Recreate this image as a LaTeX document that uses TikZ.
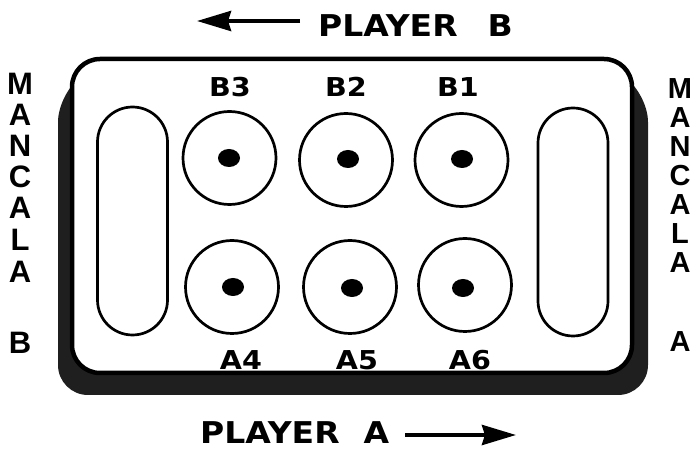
\documentclass[tikz,border=0pt]{standalone}
\usepackage{fontspec}
\usetikzlibrary{arrows.meta,shapes.geometric}
\newfontfamily\labelfont{DejaVu Sans}[FakeStretch=1.1]
\newfontfamily\sidefont{Liberation Sans}

\tikzset{
  board/.style={draw=black, line width=4.5pt, fill=white, rounded corners=28pt},
  boardshadow/.style={fill=black!88, rounded corners=30pt},
  pit/.style={circle, draw=black, line width=2.7pt, minimum size=93pt, inner sep=0pt},
  seed/.style={ellipse, fill=black, minimum width=22pt, minimum height=18pt, inner sep=0pt},
  store/.style={rectangle, draw=black, line width=2.7pt, rounded corners=35pt,
                minimum width=70pt, minimum height=228pt, inner sep=0pt},
  pitlabel/.style={font=\labelfont\bfseries\fontsize{26pt}{26pt}\selectfont,
                   inner sep=0pt, anchor=base},
  playerlabel/.style={font=\labelfont\bfseries\fontsize{30pt}{30pt}\selectfont,
                      inner sep=0pt, anchor=base west},
  sideletterB/.style={font=\sidefont\bfseries\fontsize{31pt}{31pt}\selectfont,
                      inner sep=0pt, anchor=base},
  sideletterA/.style={font=\sidefont\bfseries\fontsize{29pt}{29pt}\selectfont,
                      inner sep=0pt, anchor=base},
  dirarrow/.style={line width=4pt, -{Stealth[length=34pt,width=20pt,inset=3pt]}}
}

\begin{document}
\begin{tikzpicture}[x=1pt,y=-1pt]
  \useasboundingbox (0,0) rectangle (694,454);

  % dark lower edge of the board, tucked under its top corners
  \fill[boardshadow] (96,66) -- (58,92) -- (58,395) -- (648,395) -- (648,92) -- (608,66) -- cycle;
  % board body
  \draw[board] (72,59) rectangle (632,373);

  % the two stores
  \node[store] (storeB) at (132.5,221) {};
  \node[store] (storeA) at (573,222) {};

  % player B pits (top row)
  \node[pit] (pB3) at (229.5,158) {};
  \node[pit] (pB2) at (346,160) {};
  \node[pit] (pB1) at (461.5,160) {};
  % player A pits (bottom row)
  \node[pit] (pA4) at (232,287) {};
  \node[pit] (pA5) at (350,287) {};
  \node[pit] (pA6) at (465,285) {};

  % seeds
  \node[seed] (sB3) at (229,158) {};
  \node[seed] (sB2) at (348,159) {};
  \node[seed] (sB1) at (462,159) {};
  \node[seed] (sA4) at (233,287) {};
  \node[seed] (sA5) at (352,288) {};
  \node[seed] (sA6) at (463,288) {};

  % pit labels
  \node[pitlabel] (lB3) at (230,97) {B3};
  \node[pitlabel] (lB2) at (346,97) {B2};
  \node[pitlabel] (lB1) at (458,97) {B1};
  \node[pitlabel] (lA4) at (241,370) {A4};
  \node[pitlabel] (lA5) at (357,370) {A5};
  \node[pitlabel] (lA6) at (470,370) {A6};

  % player captions and direction arrows
  \node[playerlabel] (playerB) at (318,37) {PLAYER\hspace{30pt}B};
  \node[playerlabel] (playerA) at (200,443) {PLAYER\hspace{24pt}A};
  \coordinate (arrBtail) at (300,21);
  \coordinate (arrBtip) at (197,21);
  \coordinate (arrAtail) at (405,435);
  \coordinate (arrAtip) at (516,435);
  \draw[dirarrow] (arrBtail) -- (arrBtip);
  \draw[dirarrow] (arrAtail) -- (arrAtip);

  % vertical store captions
  \foreach \ch/\yy [count=\i] in {M/95,A/126,N/157,C/188,A/219,L/251,A/283,B/354}
    \node[sideletterB] (mB\i) at (20,\yy) {\ch};
  \foreach \ch/\yy [count=\i] in {M/99,A/128,N/157,C/186,A/215,L/244,A/273,A/352}
    \node[sideletterA] (mA\i) at (680,\yy) {\ch};
\end{tikzpicture}
\end{document}
